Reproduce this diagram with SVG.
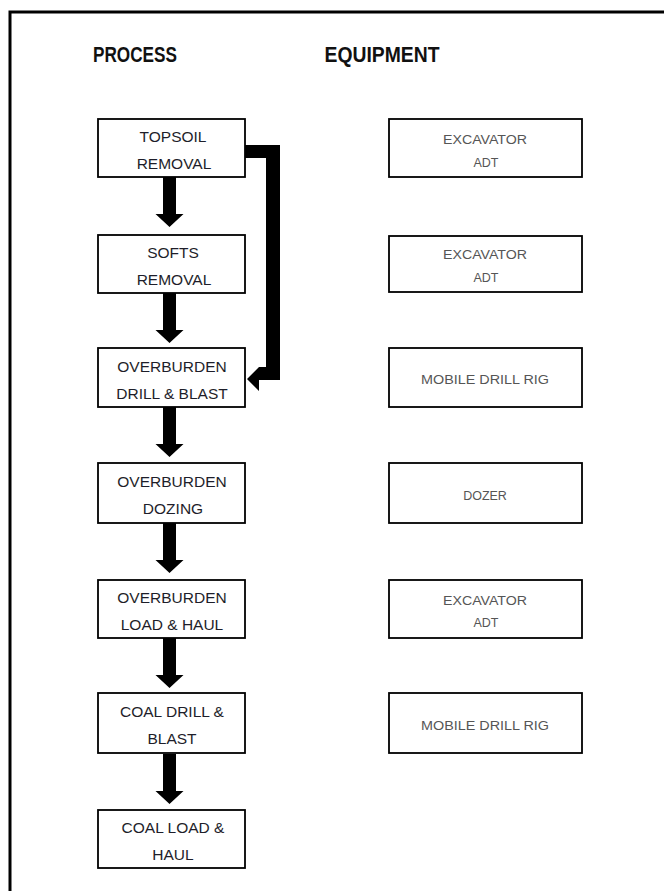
<svg xmlns="http://www.w3.org/2000/svg" xmlns:xlink="http://www.w3.org/1999/xlink" width="664" height="891" viewBox="0 0 664 891">
  <style>
    .frame { fill: none; stroke: #000; stroke-width: 3; }
    .pbox { fill: #fff; stroke: #000; stroke-width: 1.8; }
    .ebox { fill: #fff; stroke: #000; stroke-width: 1.8; }
    .head { font-family: "Liberation Sans", Arial, sans-serif; font-weight: bold; font-size: 22px; fill: #111; text-anchor: middle; }
    .ptxt { font-family: "Liberation Sans", Arial, sans-serif; font-size: 15.5px; fill: #1e1e2a; text-anchor: middle; }
    .etxt { font-family: "Liberation Sans", Arial, sans-serif; font-size: 12.5px; fill: #555; text-anchor: middle; }
    .arrow { fill: #000; }
  </style>
  <defs>
    <polygon id="down" points="-6.5,0 6.5,0 6.5,37 14,37 0,50 -14,37 -6.5,37"/>
  </defs>
  <rect x="0" y="0" width="664" height="891" fill="#fff"/>
  <rect class="frame" x="10" y="12" width="700" height="920"/>

  <text class="head" x="135" y="62" textLength="84" lengthAdjust="spacingAndGlyphs">PROCESS</text>
  <text class="head" x="382" y="62" textLength="115" lengthAdjust="spacingAndGlyphs">EQUIPMENT</text>

  <g id="connectors">
    <use href="#down" xlink:href="#down" class="arrow" transform="translate(169.5,177)"/>
    <use href="#down" xlink:href="#down" class="arrow" transform="translate(169.5,293)"/>
    <use href="#down" xlink:href="#down" class="arrow" transform="translate(169.5,407)"/>
    <use href="#down" xlink:href="#down" class="arrow" transform="translate(169.5,523)"/>
    <use href="#down" xlink:href="#down" class="arrow" transform="translate(169.5,638)"/>
    <use href="#down" xlink:href="#down" class="arrow" transform="translate(169.5,754)"/>
    <polygon class="arrow" points="245,145 280,145 280,380 259,380 259,391 247,379 259,367 266,367 266,158 245,158"/>
  </g>

  <g id="p1"><rect class="pbox" x="98" y="119" width="147" height="58"/>
    <text class="ptxt" x="173" y="142">TOPSOIL</text><text class="ptxt" x="174" y="169">REMOVAL</text></g>
  <g id="p2"><rect class="pbox" x="98" y="235" width="147" height="58"/>
    <text class="ptxt" x="173" y="258">SOFTS</text><text class="ptxt" x="174" y="285">REMOVAL</text></g>
  <g id="p3"><rect class="pbox" x="98" y="348" width="147" height="59"/>
    <text class="ptxt" x="172" y="372">OVERBURDEN</text><text class="ptxt" x="172" y="399">DRILL &amp; BLAST</text></g>
  <g id="p4"><rect class="pbox" x="98" y="463" width="147" height="60"/>
    <text class="ptxt" x="172" y="487">OVERBURDEN</text><text class="ptxt" x="173" y="514">DOZING</text></g>
  <g id="p5"><rect class="pbox" x="98" y="580" width="147" height="58"/>
    <text class="ptxt" x="172" y="603">OVERBURDEN</text><text class="ptxt" x="172" y="630">LOAD &amp; HAUL</text></g>
  <g id="p6"><rect class="pbox" x="98" y="693" width="147" height="60"/>
    <text class="ptxt" x="172" y="717">COAL DRILL &amp;</text><text class="ptxt" x="172" y="744">BLAST</text></g>
  <g id="p7"><rect class="pbox" x="98" y="810" width="147" height="58"/>
    <text class="ptxt" x="173" y="833">COAL LOAD &amp;</text><text class="ptxt" x="173" y="860">HAUL</text></g>

  <g id="e1"><rect class="ebox" x="389" y="119" width="193" height="58"/>
    <text class="etxt" x="485" y="144" textLength="84" lengthAdjust="spacingAndGlyphs">EXCAVATOR</text><text class="etxt" x="486" y="167">ADT</text></g>
  <g id="e2"><rect class="ebox" x="389" y="236" width="193" height="56"/>
    <text class="etxt" x="485" y="259" textLength="84" lengthAdjust="spacingAndGlyphs">EXCAVATOR</text><text class="etxt" x="486" y="282">ADT</text></g>
  <g id="e3"><rect class="ebox" x="389" y="348" width="193" height="59"/>
    <text class="etxt" x="485" y="384" textLength="128" lengthAdjust="spacingAndGlyphs">MOBILE DRILL RIG</text></g>
  <g id="e4"><rect class="ebox" x="389" y="463" width="193" height="60"/>
    <text class="etxt" x="485" y="500">DOZER</text></g>
  <g id="e5"><rect class="ebox" x="389" y="580" width="193" height="58"/>
    <text class="etxt" x="485" y="605" textLength="84" lengthAdjust="spacingAndGlyphs">EXCAVATOR</text><text class="etxt" x="486" y="627">ADT</text></g>
  <g id="e6"><rect class="ebox" x="389" y="693" width="193" height="60"/>
    <text class="etxt" x="485" y="730" textLength="128" lengthAdjust="spacingAndGlyphs">MOBILE DRILL RIG</text></g>
</svg>
